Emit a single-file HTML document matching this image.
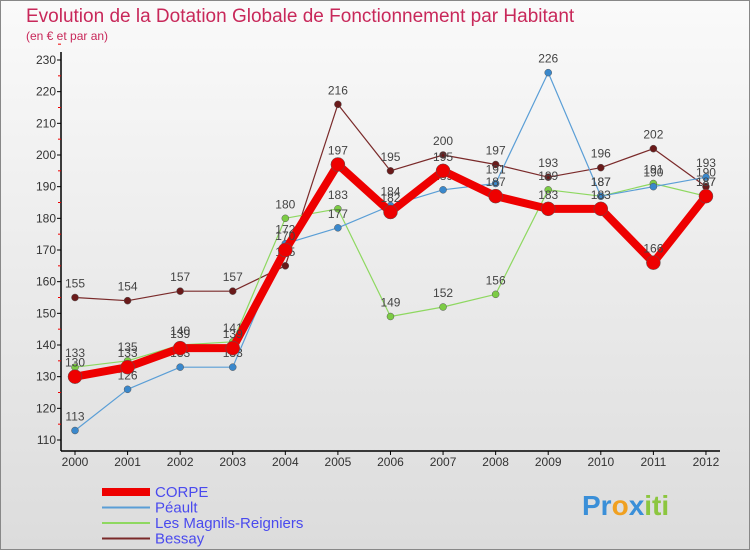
<!DOCTYPE html>
<html><head><meta charset="utf-8"><style>
body{margin:0;width:750px;height:550px;overflow:hidden;background:#fff;font-family:"Liberation Sans",sans-serif}
</style></head><body>
<svg width="750" height="550" xmlns="http://www.w3.org/2000/svg">
<defs><linearGradient id="bg" x1="0" y1="0" x2="0" y2="1"><stop offset="0" stop-color="#fafafa"/><stop offset="1" stop-color="#dcdcdc"/></linearGradient></defs>
<rect x="0.5" y="0.5" width="749" height="549" fill="url(#bg)" stroke="#888"/>
<text x="26" y="22" font-size="19" fill="#c8285a">Evolution de la Dotation Globale de Fonctionnement par Habitant</text>
<text x="26" y="40" font-size="12" fill="#c8285a">(en € et par an)</text>
<g id="axes"></g><g id="series"></g>
<g><text x="582" y="515" font-size="28" font-weight="bold" fill="#3a8fd8">Pr<tspan fill="#f0a020">o</tspan><tspan fill="#3a8fd8">x</tspan><tspan fill="#8cc63f">iti</tspan></text></g>
</svg>
<script>
const years=[2000,2001,2002,2003,2004,2005,2006,2007,2008,2009,2010,2011,2012];
const yTicks=[110,120,130,140,150,160,170,180,190,200,210,220,230];
const corpe=[130,133,139,139,170,197,182,195,187,183,183,166,187];
const peault=[113,126,133,133,172,177,184,189,191,226,187,190,193];
const magnils=[133,135,140,141,180,183,149,152,156,189,187,191,187];
const bessay=[155,154,157,157,165,216,195,200,197,193,196,202,190];
const NS="http://www.w3.org/2000/svg";
const xs=i=>75+i*52.58;
const ys=v=>440-(v-110)*3.1667;
function mk(t,a,p){const e=document.createElementNS(NS,t);for(const k in a)e.setAttribute(k,a[k]);p.appendChild(e);return e;}
const ax=document.getElementById('axes');
const yl=mk('line',{x1:61,y1:52,x2:61,y2:451,stroke:'#000','stroke-width':1.5},ax);


const xl=mk('line',{x1:61,y1:451,x2:720,y2:451,stroke:'#000','stroke-width':1.5},ax);


yTicks.forEach(v=>{
  mk('line',{x1:57,y1:ys(v),x2:61,y2:ys(v),stroke:'#000'},ax);
  mk('line',{x1:58,y1:ys(v+5),x2:61,y2:ys(v+5),stroke:'#e00'},ax);
  const t=mk('text',{x:56,y:ys(v)+4,'font-size':12,'text-anchor':'end',fill:'#333'},ax);t.textContent=v;
  
  
});
years.forEach((y,i)=>{
  mk('line',{x1:xs(i),y1:451,x2:xs(i),y2:455,stroke:'#000'},ax);
  const t=mk('text',{x:xs(i),y:466,'font-size':12,'text-anchor':'middle',fill:'#333'},ax);t.textContent=y;
  
  
});
const S=document.getElementById('series');
function draw(name,data,color,w,r,dot){
  const g=mk('g',{},S);
  
  
  const pl=mk('polyline',{points:data.map((v,i)=>xs(i)+','+ys(v)).join(' '),fill:'none',stroke:color,'stroke-width':w,'stroke-linejoin':'round'},g);
  
  
  data.forEach((v,i)=>{
    const c=mk('circle',{cx:xs(i),cy:ys(v),r:r,fill:dot,stroke:'#555','stroke-width':0.5},g);
    
    
    const t=mk('text',{x:xs(i),y:ys(v)-10,'font-size':12,'text-anchor':'middle',fill:'#444'},g);t.textContent=v;
    
    
  });
}
draw('bessay',bessay,'#7a2a2a',1.2,3.5,'#6a1a1a');
draw('magnils',magnils,'#8ed860',1.2,3.5,'#7ccc44');
draw('peault',peault,'#5a9ed6',1.2,3.5,'#3a88cc');
draw('corpe',corpe,'#ee0000',8,7,'#ee0000');
const legend=[['CORPE','#ee0000',8],['Péault','#5a9ed6',2],['Les Magnils-Reigniers','#8ed860',2],['Bessay','#7a2a2a',2]];
legend.forEach((l,i)=>{
  const y=492+i*15.5;
  const g=mk('g',{},S);
  
  
  mk('line',{x1:102,y1:y,x2:150,y2:y,stroke:l[1],'stroke-width':l[2]},g);
  const t=mk('text',{x:155,y:y+5,'font-size':15,fill:'#4a4aee'},g);t.textContent=l[0];
});
</script>
</body></html>
